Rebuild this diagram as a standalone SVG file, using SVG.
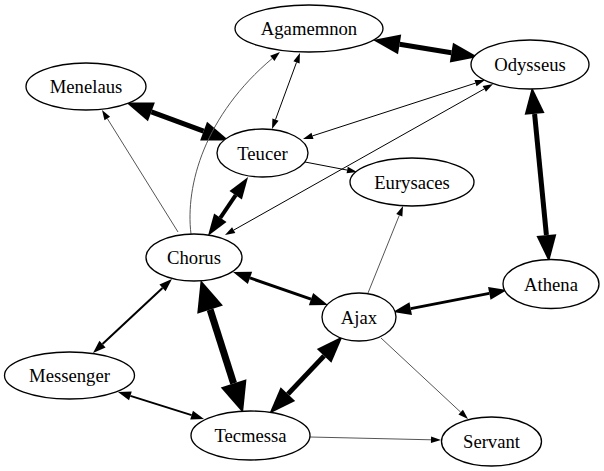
<svg xmlns="http://www.w3.org/2000/svg" width="604" height="471" viewBox="0 0 604 471">
<style>
  .node ellipse { fill: #ffffff; stroke: #000000; stroke-width: 1.33; }
  .node text { font-size: 18.67px; fill: #000000; text-anchor: middle; }
  .e { fill: none; stroke: #000000; stroke-linecap: butt; }
  .g { stroke: #555555; stroke-width: 0.9; }
  .w1 { stroke-width: 1; marker-start: url(#a1); marker-end: url(#a1); }
  .w2 { stroke-width: 2; marker-start: url(#a2); marker-end: url(#a2); }
  .w3 { stroke-width: 3; marker-start: url(#a3); marker-end: url(#a3); }
  .w4 { stroke-width: 4; marker-start: url(#a3b); marker-end: url(#a3b); }
  .w5 { stroke-width: 5; marker-start: url(#a4); marker-end: url(#a4); }
  .w7 { stroke-width: 7; marker-start: url(#a5); marker-end: url(#a5); }
  .one { marker-start: none; marker-end: url(#a1); }
</style>
<defs>
  <marker id="a1" markerUnits="userSpaceOnUse" orient="auto-start-reverse" markerWidth="12" markerHeight="8" viewBox="0 -4 12 8" refX="0" refY="0" overflow="visible">
    <path d="M0,-3.3 L10,0 L0,3.3 Z" fill="#000"/>
  </marker>
  <marker id="a2" markerUnits="userSpaceOnUse" orient="auto-start-reverse" markerWidth="14" markerHeight="10" viewBox="0 -5 14 10" refX="0" refY="0" overflow="visible">
    <path d="M0,-4.5 L13,0 L0,4.5 Z" fill="#000"/>
  </marker>
  <marker id="a3" markerUnits="userSpaceOnUse" orient="auto-start-reverse" markerWidth="19" markerHeight="14" viewBox="0 -7 19 14" refX="0" refY="0" overflow="visible">
    <path d="M0,-6.5 L18,0 L0,6.5 Z" fill="#000"/>
  </marker>
  <marker id="a3b" markerUnits="userSpaceOnUse" orient="auto-start-reverse" markerWidth="23" markerHeight="16" viewBox="0 -8 23 16" refX="0" refY="0" overflow="visible">
    <path d="M0,-7.5 L22,0 L0,7.5 Z" fill="#000"/>
  </marker>
  <marker id="a4" markerUnits="userSpaceOnUse" orient="auto-start-reverse" markerWidth="28" markerHeight="22" viewBox="0 -11 28 22" refX="0" refY="0" overflow="visible">
    <path d="M0,-10 L27,0 L0,10 Z" fill="#000"/>
  </marker>
  <marker id="a5" markerUnits="userSpaceOnUse" orient="auto-start-reverse" markerWidth="32" markerHeight="28" viewBox="0 -14 32 28" refX="0" refY="0" overflow="visible">
    <path d="M0,-13.5 L31,0 L0,13.5 Z" fill="#000"/>
  </marker>
</defs>

<g id="connectors">
  <path class="e w5" d="M399.6,44.3 L451.4,52.7"/>
  <path class="e w5" d="M151.4,111.9 L203.6,131.1"/>
  <path class="e w5" d="M534.6,113.9 L546.4,235.1"/>
  <path class="e w7" d="M210.1,309.6 L233.6,383.4"/>
  <path class="e w5" d="M324.1,355.9 L287.9,394.1"/>
  <path class="e w4" d="M220.3,217.8 L235.7,195.2"/>
  <path class="e w3" d="M250,277.9 L311,299.1"/>
  <path class="e w3" d="M410.7,308.6 L489.3,293.4"/>
  <path class="e w2" d="M162.5,287.9 L102.5,344.1"/>
  <path class="e w2" d="M130.4,395.9 L191.6,415.1"/>
  <path class="e w1" d="M296.5,62.4 L275.5,119.6"/>
  <path class="e w1" d="M475.5,83.1 L312.5,135.9"/>
  <path class="e w1" d="M484.3,88.9 L233.7,230.1"/>
  <path class="e w1 one g" d="M178,232 L107.3,118.5"/>
  <path class="e w1 one g" d="M191,234 C185,185 205,115 272.3,58.4"/>
  <path class="e w1 one" d="M305,162 L347.2,170.1"/>
  <path class="e w1 one g" d="M368,293 L399.3,215.3"/>
  <path class="e w1 one g" d="M381,338 L460.7,412.2"/>
  <path class="e w1 one g" d="M310,437 L431,439.8"/>
</g>

<g font-family="'Liberation Serif', 'DejaVu Serif', serif">
<g id="Agamemnon" class="node"><ellipse cx="309" cy="28.5" rx="74" ry="23.5"/><text x="309" y="35" font-family="Liberation Serif, serif">Agamemnon</text></g>
<g id="Menelaus" class="node"><ellipse cx="86" cy="86.5" rx="60" ry="23.5"/><text x="86" y="93" font-family="Liberation Serif, serif">Menelaus</text></g>
<g id="Odysseus" class="node"><ellipse cx="530" cy="64.5" rx="59" ry="24.5"/><text x="530" y="71" font-family="Liberation Serif, serif">Odysseus</text></g>
<g id="Teucer" class="node"><ellipse cx="262.5" cy="153" rx="45.5" ry="24"/><text x="262.5" y="159.5" font-family="Liberation Serif, serif">Teucer</text></g>
<g id="Eurysaces" class="node"><ellipse cx="412" cy="182" rx="62" ry="24"/><text x="412" y="188.5" font-family="Liberation Serif, serif">Eurysaces</text></g>
<g id="Chorus" class="node"><ellipse cx="194" cy="257.5" rx="48" ry="23.5"/><text x="194" y="264" font-family="Liberation Serif, serif">Chorus</text></g>
<g id="Athena" class="node"><ellipse cx="551" cy="284" rx="48" ry="24.5"/><text x="551" y="290.5" font-family="Liberation Serif, serif">Athena</text></g>
<g id="Ajax" class="node"><ellipse cx="359" cy="317" rx="37" ry="24"/><text x="359" y="323.5" font-family="Liberation Serif, serif">Ajax</text></g>
<g id="Messenger" class="node"><ellipse cx="69.5" cy="375.5" rx="65" ry="23.5"/><text x="69.5" y="382" font-family="Liberation Serif, serif">Messenger</text></g>
<g id="Tecmessa" class="node"><ellipse cx="250.5" cy="435.5" rx="59.5" ry="24.5"/><text x="250.5" y="442" font-family="Liberation Serif, serif">Tecmessa</text></g>
<g id="Servant" class="node"><ellipse cx="491.5" cy="441.5" rx="50" ry="24.5"/><text x="491.5" y="448" font-family="Liberation Serif, serif">Servant</text></g>
</g>
</svg>
